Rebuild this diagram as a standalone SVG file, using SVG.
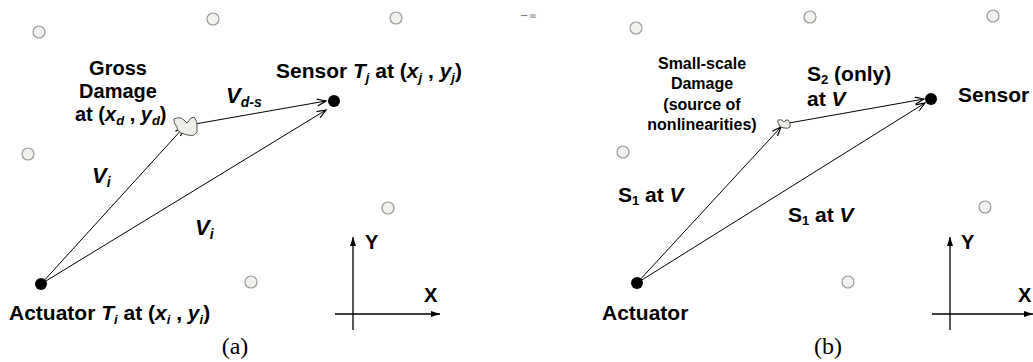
<svg xmlns="http://www.w3.org/2000/svg" width="1033" height="362" viewBox="0 0 1033 362">
<style>
.lbl{font-family:"Liberation Sans",Arial,sans-serif;font-weight:bold;fill:#000}
.it{font-style:italic}
.cap{font-family:"Liberation Serif","Times New Roman",serif;font-size:24px;fill:#000}
.pz{fill:#f1f1ee;stroke:#9a9a9a;stroke-width:1.2}
.dot{fill:#000}
.con{stroke:#000;stroke-width:1;fill:none}
.ax{stroke:#000;stroke-width:1.3;fill:none}
.dmg{fill:#efefea;stroke:#444;stroke-width:0.9}
</style>
<defs>
<marker id="oa" markerUnits="userSpaceOnUse" markerWidth="12" markerHeight="10" refX="10" refY="4" orient="auto">
<path d="M1,0.5 L10,4 L1,7.5" fill="none" stroke="#000" stroke-width="1.2"/>
</marker>
<marker id="fa" markerUnits="userSpaceOnUse" markerWidth="10" markerHeight="8" refX="9" refY="3" orient="auto">
<path d="M0,0 L9,3 L0,6 Z" fill="#000"/>
</marker>
</defs>

<!-- Panel (a) -->
<g id="a-pzt">
<circle class="pz" cx="39" cy="32" r="6"/>
<circle class="pz" cx="213" cy="19" r="6"/>
<circle class="pz" cx="396" cy="18" r="6"/>
<circle class="pz" cx="28" cy="154" r="6"/>
<circle class="pz" cx="388" cy="208" r="6"/>
<circle class="pz" cx="251" cy="282" r="6"/>
</g>
<g id="a-connectors">
<line class="con" x1="41" y1="284" x2="184" y2="127" marker-end="url(#oa)"/>
<line class="con" x1="195" y1="124" x2="326" y2="101" marker-end="url(#oa)"/>
<line class="con" x1="41" y1="284" x2="326" y2="110" marker-end="url(#oa)"/>
</g>
<g id="a-damage">
<path class="dmg" d="M174,119 Q180,116 184,120 L187,123 L191,118 L194,117 Q198,122 197,126 L197,132 Q194,137 188,135 Q184,134 181,133 Q176,130 177,127 Q173,123 174,119 Z"/>
<text class="lbl" font-size="20" x="118" y="75" text-anchor="middle">Gross</text>
<text class="lbl" font-size="20" x="118" y="98" text-anchor="middle">Damage</text>
<text class="lbl" font-size="20" x="75" y="121">at (<tspan class="it">x</tspan><tspan class="it" font-size="13" dy="4">d</tspan><tspan dy="-4"> , </tspan><tspan class="it">y</tspan><tspan class="it" font-size="13" dy="4">d</tspan><tspan dy="-4">)</tspan></text>
</g>
<g id="a-actuator">
<circle class="dot" cx="41" cy="284" r="6"/>
<text class="lbl" font-size="21" x="9" y="320">Actuator <tspan class="it">T</tspan><tspan class="it" font-size="13" dy="4">i</tspan><tspan dy="-4"> at (</tspan><tspan class="it">x</tspan><tspan class="it" font-size="13" dy="4">i</tspan><tspan dy="-4"> , </tspan><tspan class="it">y</tspan><tspan class="it" font-size="13" dy="4">i</tspan><tspan dy="-4">)</tspan></text>
</g>
<g id="a-sensor">
<circle class="dot" cx="334" cy="101" r="6"/>
<text class="lbl" font-size="21" x="276" y="78">Sensor <tspan class="it">T</tspan><tspan class="it" font-size="13" dy="4">j</tspan><tspan dy="-4"> at (</tspan><tspan class="it">x</tspan><tspan class="it" font-size="13" dy="4">j</tspan><tspan dy="-4"> , </tspan><tspan class="it">y</tspan><tspan class="it" font-size="13" dy="4">j</tspan><tspan dy="-4">)</tspan></text>
</g>
<g id="a-labels">
<text class="lbl it" font-size="22" x="226" y="103">V<tspan font-size="14" dy="4">d-s</tspan></text>
<text class="lbl it" font-size="22" x="92" y="183">V<tspan font-size="14" dy="4">i</tspan></text>
<text class="lbl it" font-size="22" x="195" y="235">V<tspan font-size="14" dy="4">i</tspan></text>
</g>
<g id="a-axes">
<line class="ax" x1="353" y1="330" x2="353" y2="237" marker-end="url(#fa)"/>
<line class="ax" x1="335" y1="314" x2="440" y2="314" marker-end="url(#fa)"/>
<text class="lbl" font-size="20" x="365" y="249">Y</text>
<text class="lbl" font-size="20" x="424" y="302">X</text>
</g>
<text class="cap" x="235" y="354" text-anchor="middle">(a)</text>

<!-- Panel (b) -->
<text x="520" y="19" font-family="DejaVu Sans,sans-serif" font-size="10" fill="#666">−∞</text>
<g id="b-pzt">
<circle class="pz" cx="636" cy="28" r="6"/>
<circle class="pz" cx="810" cy="17" r="6"/>
<circle class="pz" cx="993" cy="16" r="6"/>
<circle class="pz" cx="623" cy="152" r="6"/>
<circle class="pz" cx="985" cy="207" r="6"/>
<circle class="pz" cx="848" cy="282" r="6"/>
</g>
<g id="b-connectors">
<line class="con" x1="637" y1="283" x2="781" y2="127" marker-end="url(#oa)"/>
<line class="con" x1="789" y1="123" x2="924" y2="99" marker-end="url(#oa)"/>
<line class="con" x1="637" y1="283" x2="925" y2="103" marker-end="url(#oa)"/>
</g>
<g id="b-damage">
<path class="dmg" d="M778,120 Q781,119 783,121 L784,122 L786,120 L788,120 Q790,122 790,124 L790,127 Q788,129 785,128 Q783,128 781,127 Q778,126 779,124 Q777,122 778,120 Z"/>
<text class="lbl" font-size="16" x="702" y="69" text-anchor="middle">Small-scale</text>
<text class="lbl" font-size="16" x="702" y="89" text-anchor="middle">Damage</text>
<text class="lbl" font-size="16" x="702" y="110" text-anchor="middle">(source of</text>
<text class="lbl" font-size="16" x="702" y="130" text-anchor="middle">nonlinearities)</text>
</g>
<g id="b-actuator">
<circle class="dot" cx="637" cy="283" r="6"/>
<text class="lbl" font-size="21" x="602" y="320">Actuator</text>
</g>
<g id="b-sensor">
<circle class="dot" cx="931" cy="99" r="6"/>
<text class="lbl" font-size="21" x="958" y="102">Sensor</text>
</g>
<g id="b-labels">
<text class="lbl" font-size="21" x="807" y="81">S<tspan font-size="13" dy="3">2</tspan><tspan dy="-3"> (only)</tspan></text>
<text class="lbl" font-size="21" x="807" y="106">at <tspan class="it">V</tspan></text>
<text class="lbl" font-size="21" x="618" y="202">S<tspan font-size="13" dy="3">1</tspan><tspan dy="-3"> at </tspan><tspan class="it">V</tspan></text>
<text class="lbl" font-size="21" x="788" y="222">S<tspan font-size="13" dy="3">1</tspan><tspan dy="-3"> at </tspan><tspan class="it">V</tspan></text>
</g>
<g id="b-axes">
<line class="ax" x1="950" y1="330" x2="950" y2="237" marker-end="url(#fa)"/>
<line class="ax" x1="932" y1="314" x2="1033" y2="314" marker-end="url(#fa)"/>
<text class="lbl" font-size="20" x="961" y="249">Y</text>
<text class="lbl" font-size="20" x="1018" y="302">X</text>
</g>
<text class="cap" x="828" y="354" text-anchor="middle">(b)</text>
</svg>
